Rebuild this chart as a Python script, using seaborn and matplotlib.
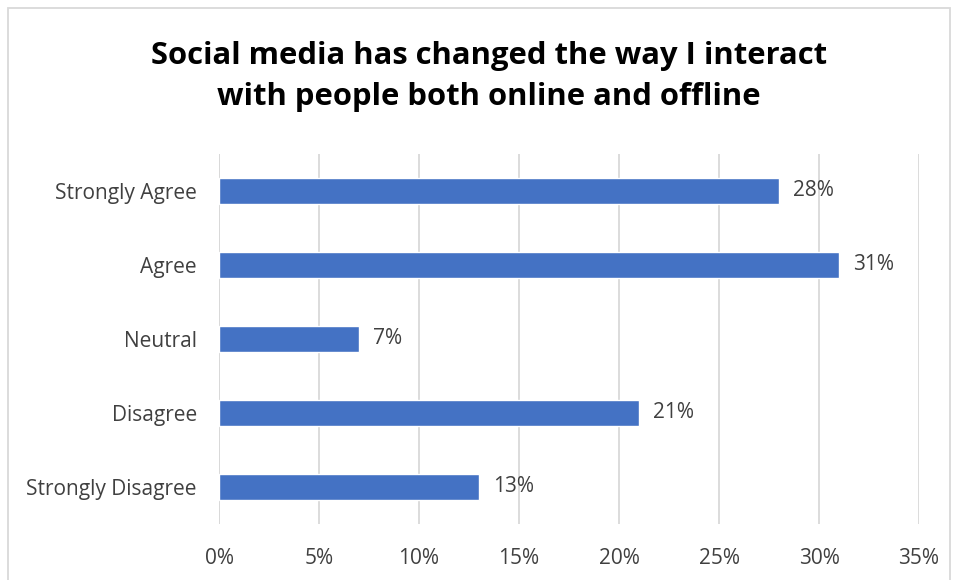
import matplotlib
matplotlib.use("Agg")
import matplotlib.pyplot as plt
import seaborn as sns
import pandas as pd
from matplotlib.patches import Rectangle

categories = ["Strongly Agree", "Agree", "Neutral", "Disagree", "Strongly Disagree"]
values = [28, 31, 7, 21, 13]
xticks = [0, 5, 10, 15, 20, 25, 30, 35]
title = "Social media has changed the way I interact\nwith people both online and offline"

sns.set_theme(style="white")
plt.rcParams['font.family'] = ['Open Sans', 'DejaVu Sans']

df = pd.DataFrame({"cat": categories, "val": values})

fig = plt.figure(figsize=(9.59, 5.80), dpi=100)
ax = fig.add_axes([0.2284, 0.0966, 0.7299, 0.6379])
sns.barplot(data=df, x="val", y="cat", order=categories, color="#4472C4",
            width=0.34, saturation=1, ax=ax)

ax.set_xlim(0, 35)
ax.set_ylim(4.5, -0.5)
ax.set_xticks(xticks)
ax.set_xticklabels([f"{t}%" for t in xticks])
ax.grid(axis="x", color="#D9D9D9", linewidth=1.3)
ax.set_axisbelow(True)
for s in ax.spines.values():
    s.set_visible(False)
ax.axvline(0, color="#D9D9D9", linewidth=1.3, zorder=0)
ax.set_xlabel("")
ax.set_ylabel("")
ax.tick_params(axis="both", length=0, labelsize=15, colors="#404040")
ax.tick_params(axis="y", pad=16)
ax.tick_params(axis="x", pad=17)
for lab in ax.get_yticklabels() + ax.get_xticklabels():
    lab.set_color("#404040")

for i, v in enumerate(values):
    ax.text(v + 0.7, i, f"{v}%", va="center", ha="left", fontsize=15, color="#404040")

fig.text(0.51, 0.868, title, ha="center", va="center", fontsize=22.3,
         fontweight="bold", color="black", linespacing=1.45)

fig.patches.append(Rectangle((8/959, -0.05), (950-8)/959, 1.05 - 8/580,
                             transform=fig.transFigure, fill=False,
                             edgecolor="#D9D9D9", linewidth=1.3))

fig.savefig("out.png", dpi=100)
